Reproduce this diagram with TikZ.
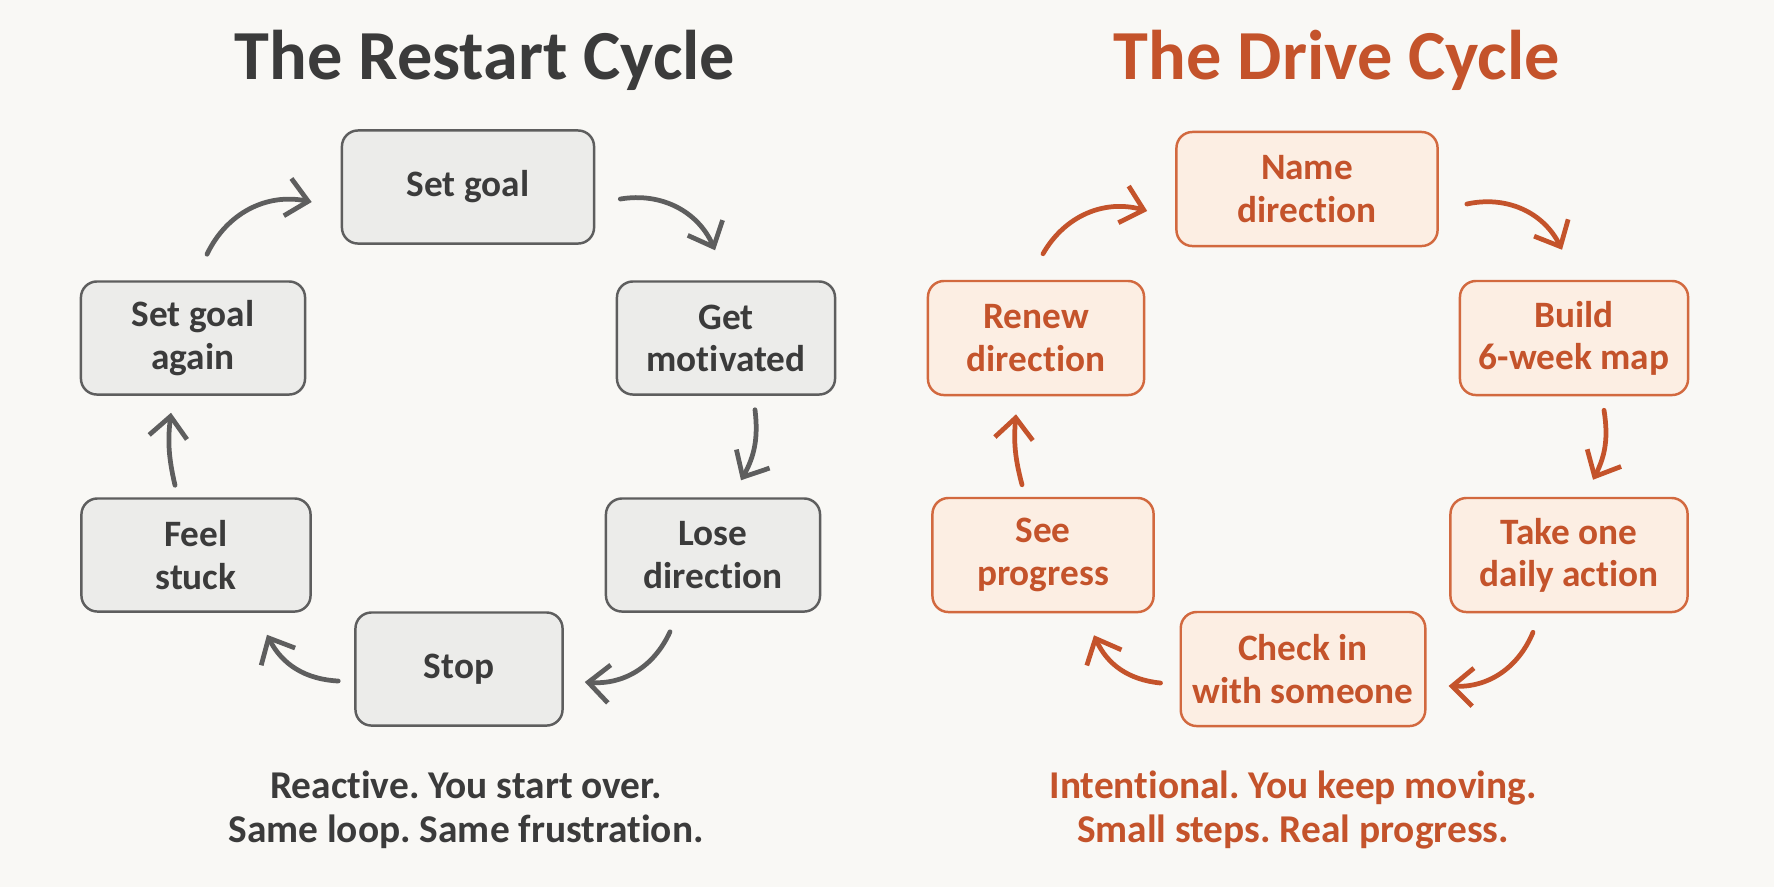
\documentclass[tikz,border=0pt]{standalone}
\usepackage{fontspec}
\setmainfont{Carlito}[Ligatures=NoCommon]
\usetikzlibrary{arrows.meta}
\frenchspacing

\definecolor{paper}{HTML}{F9F8F5}
\definecolor{inkgrey}{HTML}{3B3B3B}
\definecolor{linegrey}{HTML}{5E5E5E}
\definecolor{fillgrey}{HTML}{ECECEA}
\definecolor{rust}{HTML}{C4532B}
\definecolor{rustline}{HTML}{D2693F}
\definecolor{fillpeach}{HTML}{FCEEE3}

\begin{document}
\begin{tikzpicture}[
    x=0.01cm, y=0.01cm,
    >={Straight Barb[length=2.1mm,width=3.8mm]},
    stepgrey/.style={rectangle, rounded corners=0.16cm, draw=linegrey, fill=fillgrey,
        line width=0.7pt, text=inkgrey, align=center, minimum height=1.13cm,
        font=\bfseries\fontsize{10.6}{12}\selectfont},
    steprust/.style={rectangle, rounded corners=0.16cm, draw=rustline, fill=fillpeach,
        line width=0.7pt, text=rust, align=center, minimum height=1.14cm,
        font=\bfseries\fontsize{10.6}{12}\selectfont},
    cyclegrey/.style={->, draw=linegrey, line width=1.35pt, line cap=round},
    cyclerust/.style={->, draw=rust, line width=1.35pt, line cap=round},
    heading/.style={font=\bfseries\fontsize{20}{24}\selectfont},
    caption/.style={align=center, font=\bfseries\fontsize{11.2}{12.6}\selectfont}
]

\fill[paper] (0,0) rectangle (1774,-887);
\useasboundingbox (0,0) rectangle (1774,-887);

% Left diagram
\node[heading, text=inkgrey] (titleL) at (485,-60) {The Restart Cycle};

% States
\node[stepgrey, minimum width=2.52cm] (setgoal) at (468,-187) {Set goal};
\node[stepgrey, minimum width=2.18cm] (motivated) at (726,-338) {Get\\motivated};
\node[stepgrey, minimum width=2.14cm] (lose) at (713,-555) {Lose\\direction};
\node[stepgrey, minimum width=2.07cm] (stop) at (459,-669) {Stop};
\node[stepgrey, minimum width=2.29cm] (stuck) at (196,-555) {Feel\\stuck};
\node[stepgrey, minimum width=2.24cm] (again) at (193,-338) {Set goal\\again};

% Transitions
\draw[cyclegrey] ([shift={(14,26)}]again.north) to[bend left=38] ([shift={(-29,-15)}]setgoal.west);
\draw[cyclegrey] ([shift={(25,-12)}]setgoal.east) to[bend left=38] ([shift={(-11,30)}]motivated.north);
\draw[cyclegrey] ([shift={(29,-14)}]motivated.south) to[bend left=18] ([shift={(28,17)}]lose.north);
\draw[cyclegrey] ([shift={(-43,-19)}]lose.south) to[bend left=35] ([shift={(21,-13)}]stop.east);
\draw[cyclegrey] ([shift={(-16,-12)}]stop.west) to[bend left=30] ([shift={(71,-22)}]stuck.south);
\draw[cyclegrey] ([shift={(-21,12)}]stuck.north) to[bend left=10] ([shift={(-22,-17)}]again.south);

% Caption
\node[caption, text=inkgrey] (capL) at (466,-810) {Reactive. You start over.\\Same loop. Same frustration.};

% Right diagram
\node[heading, text=rust] (titleR) at (1337,-60) {The Drive Cycle};

% States
\node[steprust, minimum width=2.61cm] (name) at (1307,-189) {Name\\direction};
\node[steprust, minimum width=2.28cm] (build) at (1574,-338) {Build\\6-week map};
\node[steprust, minimum width=2.37cm] (daily) at (1569,-555) {Take one\\daily action};
\node[steprust, minimum width=2.42cm] (checkin) at (1303,-669) {Check in\\with someone};
\node[steprust, minimum width=2.21cm] (see) at (1043,-555) {See\\progress};
\node[steprust, minimum width=2.16cm] (renew) at (1036,-338) {Renew\\direction};

% Transitions
\draw[cyclerust] ([shift={(7,26)}]renew.north) to[bend left=38] ([shift={(-28,-22)}]name.west);
\draw[cyclerust] ([shift={(28,-15)}]name.east) to[bend left=38] ([shift={(-12,30)}]build.north);
\draw[cyclerust] ([shift={(30,-14)}]build.south) to[bend left=18] ([shift={(24,17)}]daily.north);
\draw[cyclerust] ([shift={(-36,-19)}]daily.south) to[bend left=35] ([shift={(22,-17)}]checkin.east);
\draw[cyclerust] ([shift={(-19,-14)}]checkin.west) to[bend left=30] ([shift={(51,-22)}]see.south);
\draw[cyclerust] ([shift={(-21,12)}]see.north) to[bend left=10] ([shift={(-20,-18)}]renew.south);

% Caption
\node[caption, text=rust] (capR) at (1293,-810) {Intentional. You keep moving.\\Small steps. Real progress.};

\end{tikzpicture}
\end{document}
